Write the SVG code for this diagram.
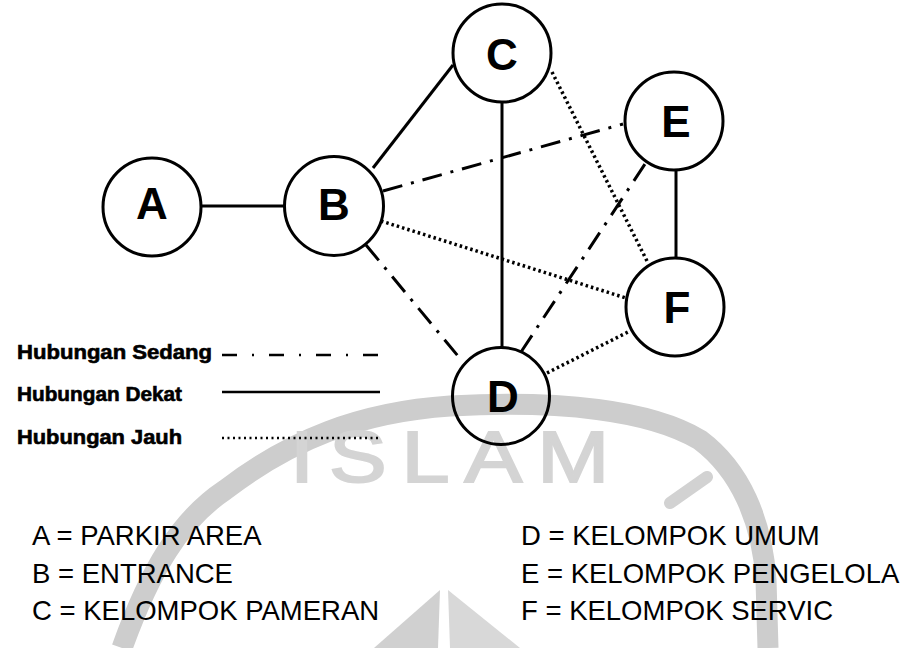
<svg xmlns="http://www.w3.org/2000/svg" width="908" height="648" viewBox="0 0 908 648">
<style>
.node{fill:none;stroke:#000;stroke-width:3}
.lbl{font-family:"Liberation Sans",Arial,sans-serif;font-weight:bold;font-size:44px;fill:#000;text-anchor:middle}
.solid{stroke:#000;stroke-width:3;fill:none}
.dashdot{stroke:#000;stroke-width:3;fill:none;stroke-dasharray:20 9 3 9}
.dotted{stroke:#000;stroke-width:3.5;fill:none;stroke-dasharray:2.5 3}
.leg{font-family:"Liberation Sans",Arial,sans-serif;font-weight:bold;font-size:20px;fill:#000;stroke:#000;stroke-width:0.6}
.key{font-family:"Liberation Sans",Arial,sans-serif;font-size:27.5px;fill:#000}
.wm{fill:none;stroke:#cdcdcd;stroke-width:21}
</style>
<rect width="908" height="648" fill="#fff"/>
<g id="watermark">
<path class="wm" d="M122,648 C150,570 180,520 225,490 C290,440 360,412 450,406 C560,400 650,410 700,440 C740,470 762,520 766,580 L768,648"/>
<g transform="translate(290,482) scale(1.2,1)">
<text x="0" y="0" font-family="Liberation Sans,Arial,sans-serif" font-size="72" fill="#d4d4d4" stroke="#d4d4d4" stroke-width="2" textLength="266" lengthAdjust="spacing">ISLAM</text>
</g>
<line x1="670" y1="503" x2="707" y2="477" stroke="#d2d2d2" stroke-width="12" stroke-linecap="round"/>
<polygon points="440,590 374,648 438,648" fill="#d0d0d0"/>
<polygon points="448,590 450,648 520,648" fill="#d8d8d8"/>
</g>
<g id="connectors">
<line class="solid" x1="201" y1="206" x2="285" y2="206"/>
<line class="solid" x1="373" y1="168" x2="453" y2="65"/>
<line class="solid" x1="502" y1="102" x2="502" y2="348"/>
<line class="solid" x1="676" y1="171" x2="676" y2="258"/>
<line class="dashdot" x1="383" y1="191" x2="623" y2="124"/>
<line class="dashdot" x1="366" y1="245" x2="458" y2="356"/>
<line class="dashdot" x1="521" y1="352" x2="645" y2="164"/>
<line class="dotted" x1="381" y1="221" x2="626" y2="298"/>
<line class="dotted" x1="552" y1="72" x2="648" y2="263"/>
<line class="dotted" x1="547" y1="373" x2="628" y2="332"/>
</g>
<g id="node-A"><circle class="node" cx="152" cy="207" r="49"/><text class="lbl" x="152" y="219">A</text></g>
<g id="node-B"><circle class="node" cx="334" cy="206" r="49.5"/><text class="lbl" x="334" y="220">B</text></g>
<g id="node-C"><circle class="node" cx="502" cy="53" r="49"/><text class="lbl" x="502" y="70">C</text></g>
<g id="node-D"><circle class="node" cx="501" cy="396" r="48.5"/><text class="lbl" x="503" y="412">D</text></g>
<g id="node-E"><circle class="node" cx="674" cy="121" r="49"/><text class="lbl" x="676" y="137">E</text></g>
<g id="node-F"><circle class="node" cx="675" cy="307" r="49"/><text class="lbl" x="677" y="323">F</text></g>
<g id="legend">
<text class="leg" x="17" y="359" textLength="195" lengthAdjust="spacingAndGlyphs">Hubungan Sedang</text>
<text class="leg" x="17" y="401" textLength="165" lengthAdjust="spacingAndGlyphs">Hubungan Dekat</text>
<text class="leg" x="17" y="444" textLength="165" lengthAdjust="spacingAndGlyphs">Hubungan Jauh</text>
<line x1="222" y1="355" x2="380" y2="355" stroke="#000" stroke-width="2.5" stroke-dasharray="15 15 2 15"/>
<line x1="222" y1="392" x2="380" y2="392" stroke="#000" stroke-width="2.5"/>
<line x1="222" y1="438" x2="380" y2="438" stroke="#000" stroke-width="2.5" stroke-dasharray="2 3.5"/>
</g>
<g id="key">
<text class="key" x="32" y="545">A = PARKIR AREA</text>
<text class="key" x="32" y="583">B = ENTRANCE</text>
<text class="key" x="32" y="620">C = KELOMPOK PAMERAN</text>
<text class="key" x="521" y="545">D = KELOMPOK UMUM</text>
<text class="key" x="521" y="583">E = KELOMPOK PENGELOLA</text>
<text class="key" x="521" y="620">F = KELOMPOK SERVIC</text>
</g>
</svg>
